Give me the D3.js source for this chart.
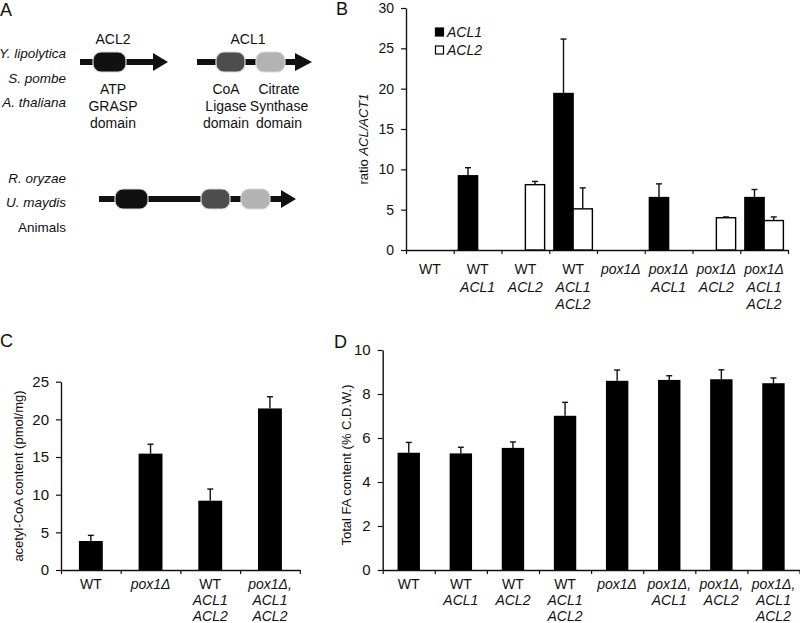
<!DOCTYPE html>
<html><head><meta charset="utf-8">
<script src="https://cdn.jsdelivr.net/npm/d3@7"></script>
<style>
body{margin:0;background:#fff;}
svg{font-family:"Liberation Sans",Arial,sans-serif;}
</style></head>
<body>
<svg id="c" width="800" height="623"></svg>
<script>
// ---------- Panel B data ----------
const bCategories = [["WT"],["WT","ACL1"],["WT","ACL2"],["WT","ACL1","ACL2"],["pox1Δ"],["pox1Δ","ACL1"],["pox1Δ","ACL2"],["pox1Δ","ACL1","ACL2"]];
const bSeries = ["ACL1","ACL2"];
const bACL1 = [0, 9.2, 0, 19.4, 0, 6.5, 0, 6.5];
const bACL1Err = [0, 1.0, 0, 6.75, 0, 1.7, 0, 1.0];
const bACL2 = [0, 0, 8.1, 5.1, 0, 0, 4.0, 3.65];
const bACL2Err = [0, 0, 0.4, 2.6, 0, 0, 0.1, 0.45];
const bTicks = [0,5,10,15,20,25,30];
// ---------- Panel C data ----------
const cCategories = [["WT"],["pox1Δ"],["WT","ACL1","ACL2"],["pox1Δ,","ACL1","ACL2"]];
const cValues = [3.85, 15.45, 9.2, 21.45];
const cErr = [0.75, 1.25, 1.55, 1.55];
const cTicks = [0,5,10,15,20,25];
// ---------- Panel D data ----------
const dCategories = [["WT"],["WT","ACL1"],["WT","ACL2"],["WT","ACL1","ACL2"],["pox1Δ"],["pox1Δ,","ACL1"],["pox1Δ,","ACL2"],["pox1Δ,","ACL1","ACL2"]];
const dValues = [5.33, 5.3, 5.55, 7.01, 8.6, 8.64, 8.67, 8.49];
const dErr = [0.47, 0.28, 0.27, 0.61, 0.49, 0.19, 0.43, 0.24];
const dTicks = [0,2,4,6,8,10];
// ---------- Panel A data ----------
const speciesTop = ["Y. lipolytica","S. pombe","A. thaliana"];
const speciesBottom = ["R. oryzae","U. maydis","Animals"];

const svg = d3.select("#c");
const FONT = 14;
const axisColor = "#111";

function styleAxis(g, size){
  g.selectAll("path.domain").attr("stroke",axisColor).attr("stroke-width",1.4);
  g.selectAll(".tick line").attr("stroke",axisColor).attr("stroke-width",1.2);
  g.selectAll(".tick text").attr("font-size",size||15).attr("fill","#111")
    .attr("font-family",'"Liberation Sans",Arial,sans-serif');
}

function drawFrame(opt){
  const g = svg.append("g");
  const y = d3.scaleLinear().domain(opt.yDomain).range([opt.y0, opt.y1]);
  const n = opt.categories.length;
  const xb = d3.scaleLinear().domain([0,n]).range([opt.x0, opt.x1]);
  const x = d3.scaleBand().domain(d3.range(n)).range([opt.x0, opt.x1])
    .paddingInner(opt.padIn).paddingOuter(opt.padOut);
  const ya = g.append("g").attr("transform",`translate(${opt.x0},0)`)
    .call(d3.axisLeft(y).tickValues(opt.ticks).tickSize(5).tickSizeOuter(0).tickPadding(7));
  styleAxis(ya, opt.tickFont);
  const xa = g.append("g").attr("transform",`translate(0,${opt.y0})`)
    .call(d3.axisBottom(xb).tickValues(d3.range(n+1)).tickSize(4).tickSizeOuter(0).tickFormat(""));
  styleAxis(xa);
  opt.categories.forEach((lines,i)=>{
    const cx = xb(i+0.5);
    const t = g.append("text").attr("x",cx).attr("text-anchor","middle")
      .attr("font-size",FONT).attr("fill","#111");
    lines.forEach((ln,j)=>{
      t.append("tspan").attr("x",cx).attr("y",opt.labelY + j*opt.lineH)
        .attr("font-style", ln==="WT" ? "normal" : "italic").text(ln);
    });
  });
  const yl = g.append("text").attr("transform",`translate(${opt.ylx},${opt.yly}) rotate(-90)`)
    .attr("text-anchor","middle").attr("dominant-baseline","central")
    .attr("font-size",opt.ylSize || 13).attr("fill","#111");
  opt.yLabel.forEach(p=>yl.append("tspan").attr("font-style",p[1]?"italic":"normal").text(p[0]));
  return {g,x,y,xb};
}

function errBar(g, cx, yTop, yErr){
  g.append("line").attr("x1",cx).attr("x2",cx).attr("y1",yTop).attr("y2",yErr)
    .attr("stroke","#111").attr("stroke-width",1.4);
  g.append("line").attr("x1",cx-3).attr("x2",cx+3).attr("y1",yErr).attr("y2",yErr)
    .attr("stroke","#111").attr("stroke-width",1.4);
}

// ---------- Panel B ----------
(function(){
  const f = drawFrame({categories:bCategories, yDomain:[0,30], y0:250, y1:8, x0:406, x1:788,
    padIn:0, padOut:0, ticks:bTicks, tickFont:14, labelY:274, lineH:17.5,
    yLabel:[["ratio ",false],["ACL/ACT1",true]], ylx:363, yly:139});
  const inner = d3.scaleBand().domain(bSeries).range([0,f.x.bandwidth()]).paddingInner(0).paddingOuter(0.24);
  const series = {ACL1:{v:bACL1,e:bACL1Err,fill:"#000"}, ACL2:{v:bACL2,e:bACL2Err,fill:"#fff"}};
  bSeries.forEach(s=>{
    const S = series[s];
    S.v.forEach((v,i)=>{
      if(v<=0) return;
      const x0 = f.x(i)+inner(s), w = inner.bandwidth();
      f.g.append("rect").attr("x",x0).attr("y",f.y(v)).attr("width",w).attr("height",f.y(0)-f.y(v))
        .attr("fill",S.fill).attr("stroke","#000").attr("stroke-width",1.4);
      if(S.e[i]>0) errBar(f.g, x0+w/2, f.y(v), f.y(v+S.e[i]));
    });
  });
  bSeries.forEach((s,i)=>{
    const ly = 28 + i*18;
    f.g.append("rect").attr("x",435.5).attr("y",ly).attr("width",8).attr("height",8)
      .attr("fill",series[s].fill).attr("stroke","#000").attr("stroke-width",1.2);
    f.g.append("text").attr("x",447).attr("y",ly+4).attr("dominant-baseline","central")
      .attr("font-size",FONT).attr("font-style","italic").attr("fill","#111").text(s);
  });
})();

// ---------- Panel C ----------
(function(){
  const f = drawFrame({categories:cCategories, yDomain:[0,25], y0:570, y1:381.7, x0:61, x1:299.8,
    padIn:0.6, padOut:0.3, ticks:cTicks, tickFont:15, labelY:589, lineH:16,
    yLabel:[["acetyl-CoA content (pmol/mg)",false]], ylx:18, yly:476});
  cValues.forEach((v,i)=>{
    const x0=f.x(i), w=f.x.bandwidth();
    f.g.append("rect").attr("x",x0).attr("y",f.y(v)).attr("width",w).attr("height",f.y(0)-f.y(v)).attr("fill","#000");
    errBar(f.g, x0+w/2, f.y(v), f.y(v+cErr[i]));
  });
})();

// ---------- Panel D ----------
(function(){
  const f = drawFrame({categories:dCategories, yDomain:[0,10], y0:570, y1:350, x0:382.7, x1:799.5,
    padIn:0.57, padOut:0.285, ticks:dTicks, tickFont:15, labelY:589, lineH:16,
    yLabel:[["Total FA content (% C.D.W.)",false]], ylx:346, yly:465});
  dValues.forEach((v,i)=>{
    const x0=f.x(i), w=f.x.bandwidth();
    f.g.append("rect").attr("x",x0).attr("y",f.y(v)).attr("width",w).attr("height",f.y(0)-f.y(v)).attr("fill","#000");
    errBar(f.g, x0+w/2, f.y(v), f.y(v+dErr[i]));
  });
})();

// ---------- Panel letters ----------
[["A",0,16],["B",336,15],["C",0,347],["D",334,348]].forEach(p=>{
  svg.append("text").attr("x",p[1]).attr("y",p[2]).attr("font-size",18).attr("fill","#111").text(p[0]);
});

// ---------- Panel A (gene diagrams) ----------
(function(){
  const g = svg.append("g");
  const lineCol = "#111";
  function backbone(x1,x2,yc){
    g.append("rect").attr("x",x1).attr("y",yc-3).attr("width",x2-x1).attr("height",6).attr("fill",lineCol);
  }
  function arrowHead(xb,xt,yc){
    g.append("path").attr("d",`M${xb},${yc-9}L${xt},${yc}L${xb},${yc+9}Z`).attr("fill",lineCol);
  }
  function domain(x1,x2,yc,col){
    g.append("rect").attr("x",x1).attr("y",yc-10).attr("width",x2-x1).attr("height",20)
      .attr("rx",8).attr("ry",8).attr("fill",col).attr("stroke","#d8d8d8").attr("stroke-width",1.2);
  }
  function label(x,y,t,it,anchor,size){
    g.append("text").attr("x",x).attr("y",y).attr("text-anchor",anchor||"middle")
      .attr("dominant-baseline","central").attr("font-size",size||FONT).attr("fill","#111")
      .attr("font-style",it?"italic":"normal").text(t);
  }
  backbone(80,154,62); arrowHead(153,168,62); domain(93,126,62,"#111");
  backbone(197,296,62); arrowHead(295,312,62);
  domain(216,245,62,"#4d4d4d"); domain(256,285,62,"#b3b3b3");
  backbone(99,282,199); arrowHead(281,296,199);
  domain(115,148,199,"#111"); domain(201,230,199,"#4d4d4d"); domain(241,270,199,"#b3b3b3");
  label(113,39,"ACL2"); label(248,39,"ACL1");
  const rows=[89,106,123];
  ["ATP","GRASP","domain"].forEach((t,i)=>label(113,rows[i],t));
  ["CoA","Ligase","domain"].forEach((t,i)=>label(226,rows[i],t));
  ["Citrate","Synthase","domain"].forEach((t,i)=>label(279,rows[i],t));
  const topY=[53,78,102], botY=[178,202,227];
  speciesTop.forEach((s,i)=>label(66,topY[i],s,true,"end",13.5));
  speciesBottom.forEach((s,i)=>label(66,botY[i],s,s!=="Animals","end",13.5));
})();
</script>
</body></html>
